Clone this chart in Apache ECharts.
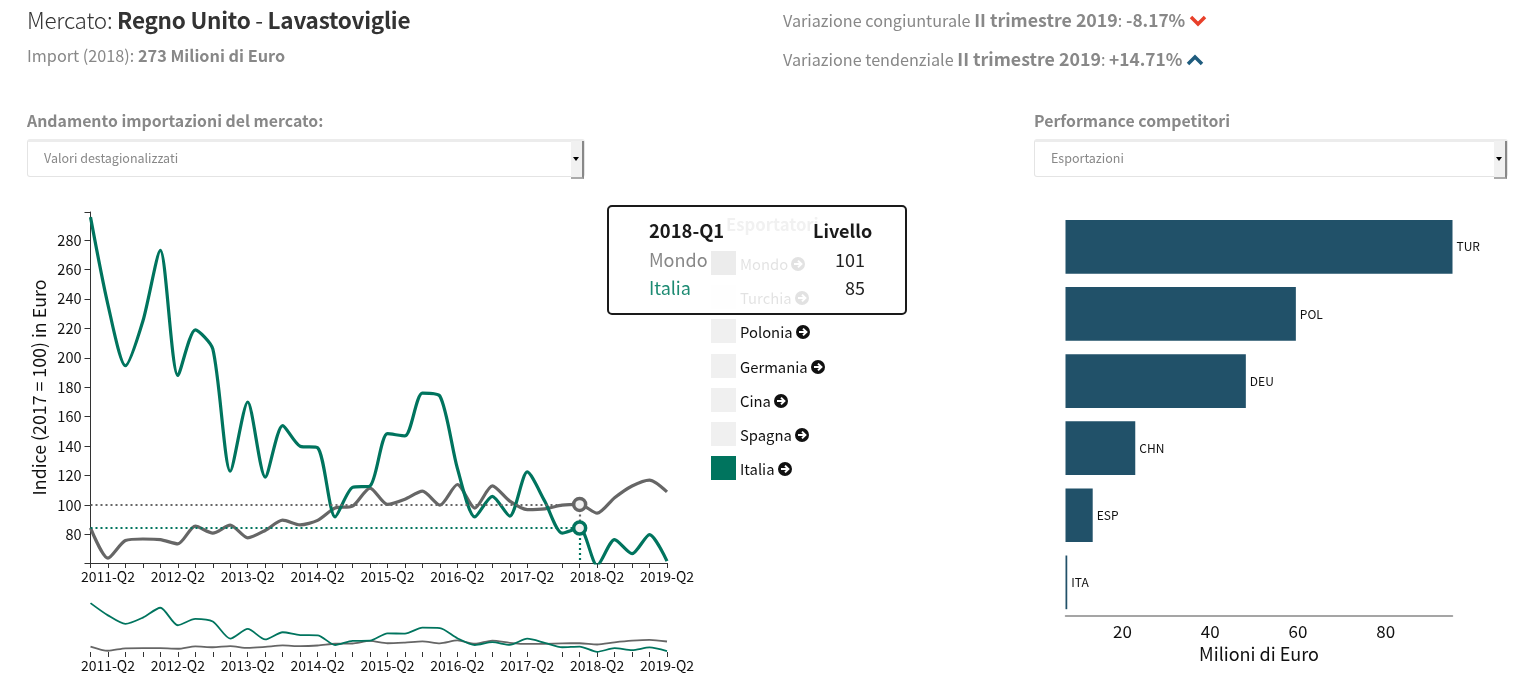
<!DOCTYPE html>
<html>
<head>
<meta charset="utf-8">
<title>Mercato</title>
<script src="https://cdn.jsdelivr.net/npm/echarts@6/dist/echarts.min.js"></script>
<style>
  html, body { margin: 0; padding: 0; width: 1513px; height: 675px; overflow: hidden; background: #fff; }
  body { font-family: "Noto Sans CJK SC", "Noto Sans", sans-serif; color: #333; position: relative; }
  #chart { position: absolute; left: 0; top: 0; width: 1513px; height: 675px; }
  .txt { position: absolute; white-space: nowrap; line-height: 1; }
  .grey { color: #888; }
  b { font-weight: 700; }
  .sel { position: absolute; top: 139px; border: 1px solid #e4e4e4; border-top: 3px solid #ececec; border-radius: 3px; box-sizing: content-box; background: #fff; height: 34px; }
  .sel span { position: absolute; left: 16px; top: 10px; font-size: 12.5px; line-height: 1; color: #888; }
  .sel i { position: absolute; right: 0; top: -1px; width: 11px; height: 36px; background: #f1f1f1; border-right: 2px solid #888; border-bottom: 2px solid #aaa; }
  .sel i:after { content: ""; position: absolute; left: 2px; top: 16px; border: 3px solid transparent; border-top: 4px solid #000; }
  .row { position: absolute; left: 711px; height: 24px; }
  .row s { position: absolute; left: 0; top: 0; width: 25px; height: 24px; background: #f0f0f0; }
  .row span { position: absolute; left: 29px; top: 6px; font-size: 14.8px; line-height: 1; color: #111; white-space: nowrap; }
  .row svg { vertical-align: -1px; margin-left: 3px; }
  #tip { position: absolute; left: 607px; top: 205px; width: 296px; height: 106px; border: 2px solid #1a1a1a; border-radius: 5px; background: rgba(255,255,255,.88); }
</style>
</head>
<body>
<div id="chart"></div>

<div class="txt" style="left:27px;top:8px;font-size:22.5px;letter-spacing:-.25px"><span style="font-weight:300">Mercato:</span> <b>Regno Unito</b> - <b>Lavastoviglie</b></div>
<div class="txt grey" style="left:27px;top:47px;font-size:16.25px">Import (2018): <b>273 Milioni di Euro</b></div>
<div class="txt grey" style="left:783px;top:11px;font-size:16.2px">Variazione congiunturale <b style="font-size:17.8px">II trimestre 2019</b>: <b style="font-size:17.3px">-8.17%</b>
  <svg width="18" height="12" viewBox="0 0 18 12" style="vertical-align:0"><polyline points="2,2 9,9 16,2" fill="none" stroke="#e8402a" stroke-width="3.5"/></svg></div>
<div class="txt grey" style="left:783px;top:50px;font-size:16.2px">Variazione tendenziale <b style="font-size:17.8px">II trimestre 2019</b>: <b style="font-size:17.3px">+14.71%</b>
  <svg width="18" height="12" viewBox="0 0 18 12" style="vertical-align:0"><polyline points="2,10 9,3 16,10" fill="none" stroke="#1f5c7e" stroke-width="3.5"/></svg></div>

<div class="txt grey" style="left:27px;top:113px;font-size:15.85px"><b>Andamento importazioni del mercato:</b></div>
<div class="txt grey" style="left:1034px;top:113px;font-size:15.85px"><b>Performance competitori</b></div>
<div class="sel" style="left:27px;width:556px"><span>Valori destagionalizzati</span><i></i></div>
<div class="sel" style="left:1034px;width:472px"><span>Esportazioni</span><i></i></div>

<div class="txt grey" style="left:726px;top:216px;font-size:16.7px"><b>Esportatori</b></div>
<div id="legend"></div>

<div id="tip"></div>
<div class="txt" style="left:649px;top:221px;font-size:18.4px;color:#1a1a1a"><b id="tipQuarter"></b></div>
<div class="txt" style="left:813px;top:221px;font-size:18px;color:#1a1a1a"><b>Livello</b></div>
<div class="txt" style="left:649px;top:250px;font-size:18px;color:#888">Mondo</div>
<div class="txt" style="left:649px;top:278px;font-size:18px;color:#1c8a72">Italia</div>
<div class="txt" id="tipMondo" style="right:648px;top:250px;font-size:18px;color:#222"></div>
<div class="txt" id="tipItalia" style="right:648px;top:278px;font-size:18px;color:#222"></div>

<script>
var quarters = [
  '2011-Q1','2011-Q2','2011-Q3','2011-Q4','2012-Q1','2012-Q2','2012-Q3','2012-Q4',
  '2013-Q1','2013-Q2','2013-Q3','2013-Q4','2014-Q1','2014-Q2','2014-Q3','2014-Q4',
  '2015-Q1','2015-Q2','2015-Q3','2015-Q4','2016-Q1','2016-Q2','2016-Q3','2016-Q4',
  '2017-Q1','2017-Q2','2017-Q3','2017-Q4','2018-Q1','2018-Q2','2018-Q3','2018-Q4',
  '2019-Q1','2019-Q2'
];
var italia = [
  295.5,236,194.6,225,273,188,219,206,
  123,170,119,154,140,139,92,112,
  113,148.5,147,176,174,125,92,106,
  92.5,122.5,102.7,81,84.5,59,76.6,67,
  80,62
];
var mondo = [
  84.6,64,76,77,76.6,73.7,85.7,81,
  86.4,77.8,82.8,89.8,86.6,89.6,98,99.3,
  111.6,100.5,104,109.5,100,114,98,113,
  102.7,97,97.5,100,100.5,94.5,105,113,
  117,109
];
var selectedQuarter = '2018-Q1';
var labelQuarters = ['2011-Q2','2012-Q2','2013-Q2','2014-Q2','2015-Q2','2016-Q2','2017-Q2','2018-Q2','2019-Q2'];
var yLabels = [80,100,120,140,160,180,200,220,240,260,280];
var yMin = 60.7, yMax = 299;

var competitors = ['TUR','POL','DEU','CHN','ESP','ITA'];
var exports_ = [95.2,59.5,48.1,22.9,13.2,7.4];
var xLabels = [20,40,60,80];

var legendNames = ['Mondo','Turchia','Polonia','Germania','Cina','Spagna','Italia'];
var legendColors = ['#666666','#f0f0f0','#f0f0f0','#f0f0f0','#f0f0f0','#f0f0f0','#00745e'];

var GREEN = '#00745e', GREY = '#666666', BAR = '#215169';
var FONT = '"Noto Sans CJK SC", "Noto Sans", sans-serif';

// legenda e tooltip fissi
var arrow = '<svg width="14" height="14" viewBox="0 0 14 14"><circle cx="7" cy="7" r="7" fill="#111"/><path d="M3 7h7M7 3.6L10.4 7 7 10.4" fill="none" stroke="#fff" stroke-width="2"/></svg>';
document.getElementById('legend').innerHTML = legendNames.map(function (n, i) {
  return '<div class="row" style="top:' + (251 + i * 34.2) + 'px"><s style="background:' + legendColors[i] + '"></s><span>' + n + arrow + '</span></div>';
}).join('');
var selIdx = quarters.indexOf(selectedQuarter);
document.getElementById('tipQuarter').textContent = selectedQuarter;
document.getElementById('tipMondo').textContent = Math.round(mondo[selIdx]);
document.getElementById('tipItalia').textContent = Math.round(italia[selIdx]);

function guide(value, vertTo) {
  var lines = [[{coord: [0, value]}, {coord: [selIdx, value]}]];
  lines.push([{coord: [selIdx, value]}, {coord: [selIdx, vertTo]}]);
  return lines;
}

function lineSeries(name, data, color, width, xi, extra) {
  var s = {
    name: name, type: 'line', data: data, xAxisIndex: xi, yAxisIndex: xi,
    smooth: 0.25, showSymbol: false, silent: true,
    lineStyle: {color: color, width: width}, itemStyle: {color: color}
  };
  return Object.assign(s, extra || {});
}

function marks(data, color, vertTo) {
  return {
    markLine: {
      silent: true, symbol: 'none', label: {show: false},
      lineStyle: {color: color, type: [2, 3], width: 2.2},
      data: guide(data[selIdx], vertTo)
    },
    markPoint: {
      silent: true, symbol: 'circle', symbolSize: 12, label: {show: false},
      itemStyle: {color: '#f0f0f0', borderColor: color, borderWidth: 3.5},
      data: [{coord: [selIdx, data[selIdx]]}]
    }
  };
}

function quarterAxis(grid, tickMarks) {
  return {
    type: 'category', gridIndex: grid, data: quarters, boundaryGap: false,
    axisLine: {show: grid === 0, lineStyle: {color: '#333', width: 1}},
    axisTick: {show: true, length: 5, lineStyle: {color: '#333'}, customValues: tickMarks},
    axisLabel: {customValues: labelQuarters, color: '#111', fontSize: 14, fontFamily: FONT, margin: 7}
  };
}

var tickMarks = quarters.filter(function (q) { return q !== '2017-Q3'; });

var myChart = echarts.init(document.getElementById('chart'));
var option = {
  animation: false,
  grid: [
    {left: 90.5, width: 576.5, top: 212, height: 351},
    {left: 90.5, width: 576.5, top: 603, height: 49},
    {left: 1065.5, width: 387, top: 213.3, height: 402.6}
  ],
  xAxis: [
    quarterAxis(0, tickMarks),
    quarterAxis(1, tickMarks),
    {
      type: 'value', gridIndex: 2, min: 7, max: 95.2, splitLine: {show: false},
      name: 'Milioni di Euro', nameLocation: 'middle', nameGap: 29,
      nameTextStyle: {fontSize: 18, color: '#111', fontFamily: FONT},
      axisLine: {show: true, lineStyle: {color: '#888', width: 1.5}},
      axisTick: {show: false},
      axisLabel: {customValues: xLabels, color: '#111', fontSize: 17, fontFamily: FONT, margin: 7}
    }
  ],
  yAxis: [
    {
      type: 'value', gridIndex: 0, min: yMin, max: yMax, splitLine: {show: false},
      name: 'Indice (2017 = 100) in Euro', nameLocation: 'middle', nameGap: 42,
      nameTextStyle: {fontSize: 17.8, color: '#111', fontFamily: FONT},
      axisLine: {show: true, lineStyle: {color: '#333', width: 1}},
      axisTick: {show: true, length: 6, lineStyle: {color: '#333'}, customValues: [yMin].concat(yLabels, [yMax])},
      axisLabel: {customValues: yLabels, color: '#111', fontSize: 14.5, fontFamily: FONT, margin: 9}
    },
    {type: 'value', gridIndex: 1, min: 58, max: 296, show: false},
    {
      type: 'category', gridIndex: 2, data: competitors, inverse: true, show: false
    }
  ],
  series: [
    lineSeries('Mondo', mondo, GREY, 3.2, 0, marks(mondo, GREY, italia[selIdx])),
    lineSeries('Italia', italia, GREEN, 3.2, 0, marks(italia, GREEN, yMin)),
    lineSeries('Mondo', mondo, GREY, 1.8, 1),
    lineSeries('Italia', italia, GREEN, 1.8, 1),
    {
      name: 'Esportazioni', type: 'bar', xAxisIndex: 2, yAxisIndex: 2, data: exports_,
      barCategoryGap: '20%', silent: true, itemStyle: {color: BAR},
      label: {show: true, position: 'right', distance: 4, formatter: '{b}', fontSize: 12, color: '#111', fontFamily: FONT}
    }
  ]
};
myChart.setOption(option);
</script>
</body>
</html>
